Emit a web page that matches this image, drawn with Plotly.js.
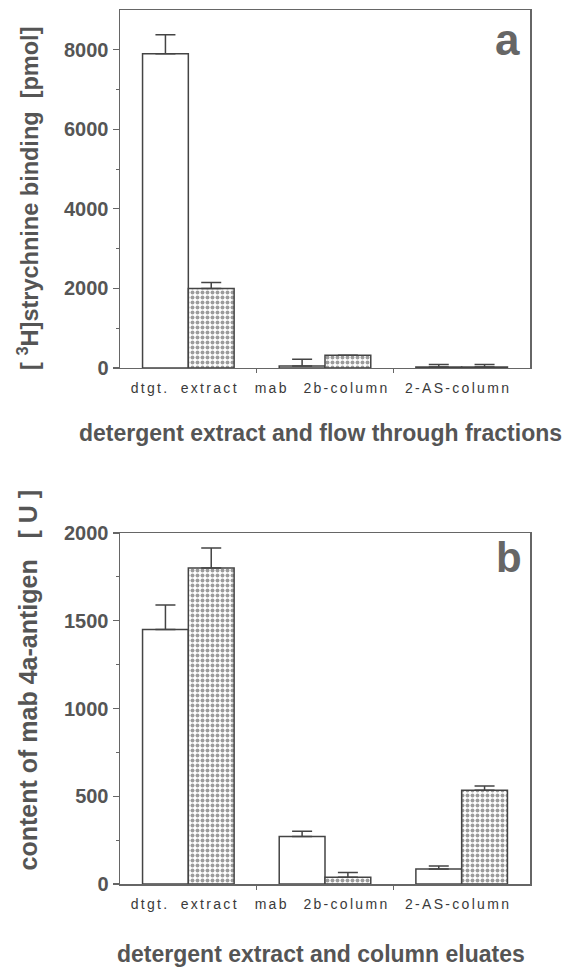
<!DOCTYPE html>
<html>
<head>
<meta charset="utf-8">
<script src="https://cdn.plot.ly/plotly-3.0.1.min.js"></script>
<style>
  html, body { margin: 0; padding: 0; background: #fff; }
  #chart { width: 574px; height: 967px; }
  .xtick text, .x2tick text { letter-spacing: 2.3px; }
</style>
</head>
<body>
<div id="chart"></div>
<script>
// ---- data ----
const groups = [0, 1, 2];
const tickLabels = ['dtgt.', 'extract', 'mab', '2b-column', '2-AS-column'];

// panel a: [3H]strychnine binding [pmol]
const aOpenValues = [7900, 50, 25];
const aOpenErrors = [480, 170, 65];
const aDottedValues = [2000, 320, 25];
const aDottedErrors = [150, 0, 60];

// panel b: content of mab 4a-antigen [U]
const bOpenValues = [1450, 270, 85];
const bOpenErrors = [140, 30, 17];
const bDottedValues = [1800, 38, 534];
const bDottedErrors = [115, 28, 25];

// ---- styling ----
const FONT = '"Liberation Sans", Arial, Helvetica, sans-serif';
const INK = '#444';
const TXT = '#555';
const NB = '\u00A0';

function barTrace(x, y, err, dotted, xa, ya) {
  const t = {
    type: 'bar', x: x, y: y, xaxis: xa, yaxis: ya,
    showlegend: false, hoverinfo: 'skip',
    error_y: {
      type: 'data', array: err, arrayminus: err.map(() => 0), symmetric: false,
      color: INK, thickness: 1.5, width: 10
    },
    marker: {
      color: '#ffffff',
      line: { color: INK, width: 1.5 }
    }
  };
  if (dotted) {
    t.marker.pattern = { shape: '.', fgcolor: '#3a3a3a', bgcolor: '#ffffff', size: 5, solidity: 0.5, fillmode: 'overlay' };
  }
  return t;
}

const data = [
  barTrace(groups, aOpenValues, aOpenErrors, false, 'x', 'y'),
  barTrace(groups, aDottedValues, aDottedErrors, true, 'x', 'y'),
  barTrace(groups, bOpenValues, bOpenErrors, false, 'x2', 'y2'),
  barTrace(groups, bDottedValues, bDottedErrors, true, 'x2', 'y2')
];

const labelPos = [-0.28, 0.157, 0.61, 1.157, 1.974];

function xAxis(anchor) {
  return {
    anchor: anchor, domain: [0, 1], range: [-0.5, 2.5],
    tickmode: 'array', tickvals: labelPos, ticktext: tickLabels,
    ticks: '', ticklabelstandoff: 7,
    tickfont: { family: FONT, size: 14, color: '#3a3a3a' },
    showline: true, mirror: true, linecolor: '#666', linewidth: 1.5,
    showgrid: false, zeroline: false, fixedrange: true,
    minor: { tickmode: 'array', tickvals: [0.5, 1.5], ticks: 'outside', ticklen: 4, tickwidth: 1.2, tickcolor: '#666', showgrid: false }
  };
}

function yAxis(anchor, domain, range, major, minor) {
  return {
    anchor: anchor, domain: domain, range: range,
    tickmode: 'array', tickvals: major,
    ticks: 'outside', ticklen: 6, tickwidth: 1.2, tickcolor: '#666',
    tickfont: { family: FONT, size: 20, color: TXT, weight: 'bold' },
    showline: true, mirror: true, linecolor: '#666', linewidth: 1.5,
    showgrid: false, zeroline: false, fixedrange: true,
    minor: { tickmode: 'array', tickvals: minor, ticks: 'outside', ticklen: 3, tickwidth: 1.2, tickcolor: '#666', showgrid: false }
  };
}

const titleFont = { family: FONT, size: 23, color: TXT, weight: 'bold' };

const layout = {
  width: 574, height: 967,
  margin: { l: 120, r: 44, t: 10, b: 83 },
  paper_bgcolor: '#fff', plot_bgcolor: '#fff',
  barmode: 'group', bargap: 0.33, bargroupgap: 0,
  xaxis: xAxis('y'),
  yaxis: yAxis('x', [0.5904, 1], [0, 9000], [0, 2000, 4000, 6000, 8000], [1000, 3000, 5000, 7000]),
  xaxis2: xAxis('y2'),
  yaxis2: yAxis('x2', [0, 0.4016], [0, 2000], [0, 500, 1000, 1500, 2000], [250, 750, 1250, 1750]),
  annotations: [
    { text: 'a', xref: 'paper', yref: 'paper', x: 0.946, y: 0.9657, xanchor: 'center', yanchor: 'middle', showarrow: false,
      font: { family: FONT, size: 44, color: '#666', weight: 'bold' } },
    { text: 'b', xref: 'paper', yref: 'paper', x: 0.949, y: 0.373, xanchor: 'center', yanchor: 'middle', showarrow: false,
      font: { family: FONT, size: 42, color: '#666', weight: 'bold' } },
    { text: 'detergent extract and flow through fractions', xref: 'paper', yref: 'paper', x: 0.488, y: 0.516,
      xanchor: 'center', yanchor: 'middle', showarrow: false, font: titleFont },
    { text: 'detergent extract and column eluates', xref: 'paper', yref: 'paper', x: 0.49, y: -0.080,
      xanchor: 'center', yanchor: 'middle', showarrow: false, font: titleFont },
    { text: '[ <sup>3</sup>H]strychnine binding' + NB + NB + '[pmol]', xref: 'paper', yref: 'paper', x: -0.2244, y: 0.785,
      xanchor: 'center', yanchor: 'middle', textangle: -90, showarrow: false,
      font: { family: FONT, size: 23.5, color: TXT, weight: 'bold' } },
    { text: 'content of mab 4a-antigen' + NB + NB + NB + '[' + NB + 'U' + NB + ']', xref: 'paper', yref: 'paper', x: -0.2244, y: 0.234,
      xanchor: 'center', yanchor: 'middle', textangle: -90, showarrow: false,
      font: { family: FONT, size: 25, color: TXT, weight: 'bold' } }
  ]
};

Plotly.newPlot('chart', data, layout, { displayModeBar: false, staticPlot: true });
</script>
</body>
</html>
